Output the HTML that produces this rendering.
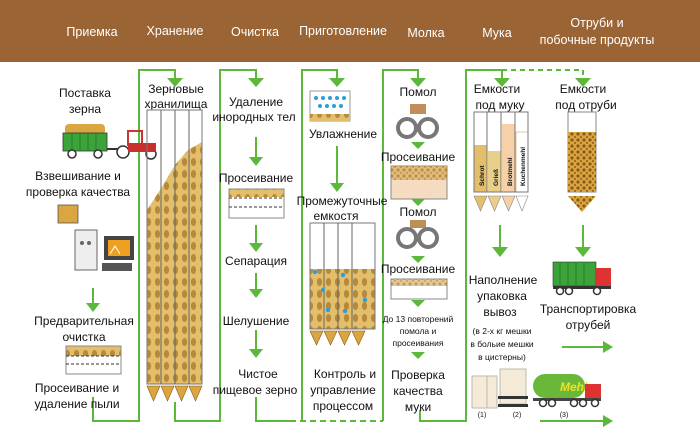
<!DOCTYPE html>
<html><head><meta charset="utf-8"><style>
html,body{margin:0;padding:0;background:#fff;width:700px;height:428px;overflow:hidden}
svg{display:block}
text{font-family:"Liberation Sans",sans-serif;fill:#111}
.h{fill:#fff;font-size:12.5px}
.t{font-size:12px}
.s{font-size:8.5px}
</style></head><body>
<svg width="700" height="428" viewBox="0 0 700 428" xmlns="http://www.w3.org/2000/svg">
<defs>
<pattern id="g" width="9" height="12" patternUnits="userSpaceOnUse">
<rect width="9" height="12" fill="#e3bf6c"/>
<ellipse cx="4.5" cy="6" rx="2.6" ry="4" fill="#b8893a"/>
</pattern>
<pattern id="b" width="6" height="6" patternUnits="userSpaceOnUse">
<rect width="6" height="6" fill="#d9a640"/>
<circle cx="2" cy="2" r="1.6" fill="#8a5a1c"/><circle cx="5" cy="5" r="1.2" fill="#a36b22"/>
</pattern>
</defs>
<rect width="700" height="62" fill="#9a6434"/>
<g text-anchor="middle">
<text x="92" y="36" class="h">Приемка</text>
<text x="175" y="35" class="h">Хранение</text>
<text x="255" y="36" class="h">Очистка</text>
<text x="343" y="35" class="h">Приготовление</text>
<text x="426" y="37" class="h">Молка</text>
<text x="497" y="37" class="h">Мука</text>
<text x="597" y="27" class="h">Отруби и</text>
<text x="597" y="44" class="h">побочные  продукты</text>
</g>
<g stroke="#5cb83a" stroke-width="2" fill="none">
<path d="M93,397 V421 H139 V70 H175 V78"/>
<path d="M175,402 V421 H220 V70 H256 V78"/>
<path d="M256,397 V421 H290"/>
<path d="M290,421 H383" stroke-dasharray="6,4"/>
<path d="M302,421 V70 H337 V78"/>
<path d="M383,421 V70 H418 V78"/>
<path d="M420,410 V421 H466 V70 H502 V78"/>
<path d="M502,70 H583 V78" stroke-dasharray="5,4"/>
<path d="M93,288 V306 M256,137 V160 M256,225 V246 M256,273 V292 M256,330 V352 M337,146 V186 M500,225 V250 M583,225 V250"/>
<path d="M562,347 H604 M540,421 H604"/>
</g>
<g fill="#5cb83a">
<path d="M167,78 h16 l-8,9z M248,78 h16 l-8,9z M329,78 h16 l-8,9z M410,78 h16 l-8,9z M494,78 h16 l-8,9z M575,78 h16 l-8,9z"/>
<path d="M86,303 h14 l-7,9z M249,157 h14 l-7,9z M249,243 h14 l-7,9z M249,289 h14 l-7,9z M249,349 h14 l-7,9z M330,183 h14 l-7,9z"/>
<path d="M492,247 h16 l-8,10z M575,247 h16 l-8,10z M411,142 h14 l-7,7z M411,199 h14 l-7,7z M411,256 h14 l-7,7z M411,300 h14 l-7,7z M411,352 h14 l-7,7z"/>
<path d="M603,341 l10,6 l-10,6z M603,415 l10,6 l-10,6z"/>
</g>
<g class="t" text-anchor="middle">
<text x="85" y="97">Поставка</text><text x="85" y="113">зерна</text>
<text x="78" y="180">Взвешивание и</text><text x="78" y="196">проверка качества</text>
<text x="84" y="325">Предварительная</text><text x="84" y="341">очистка</text>
<text x="77" y="392">Просеивание и</text><text x="77" y="408">удаление пыли</text>
</g>
<rect x="65" y="124" width="40" height="11" rx="4" fill="#d9a640"/>
<rect x="63" y="133" width="44" height="18" fill="#3aa43a" stroke="#333" stroke-width="0.8"/>
<path d="M72,133V151 M80,133V151 M88,133V151 M96,133V151" stroke="#2a7a2a"/>
<rect x="107" y="148" width="18" height="2" fill="#333"/>
<g fill="#fff" stroke="#333" stroke-width="1.5"><circle cx="72" cy="154" r="4"/><circle cx="98" cy="154" r="4"/><circle cx="123" cy="152" r="6"/><circle cx="151" cy="154" r="5"/></g>
<rect x="128" y="131" width="14" height="14" fill="none" stroke="#c33" stroke-width="2"/>
<rect x="128" y="143" width="28" height="9" fill="#c83030"/>
<rect x="58" y="205" width="20" height="18" fill="#d9a640" stroke="#555" stroke-width="0.8"/>
<rect x="75" y="230" width="22" height="40" fill="#eee" stroke="#666"/>
<circle cx="82" cy="243" r="2" fill="#666"/><circle cx="89" cy="243" r="2" fill="#666"/>
<rect x="104" y="236" width="30" height="24" fill="#444"/><rect x="108" y="240" width="22" height="16" fill="#f0a020"/>
<path d="M110,254 l5,-8 l5,8" stroke="#fff" fill="none"/>
<rect x="102" y="263" width="30" height="8" fill="#555"/>
<rect x="66" y="346" width="55" height="10" fill="url(#g)"/>
<rect x="66" y="346" width="55" height="28" fill="none" stroke="#888"/>
<path d="M66,356 H121 M66,364 H121" stroke="#333" stroke-dasharray="3,2"/>
<g class="t" text-anchor="middle"><text x="176" y="93">Зерновые</text><text x="176" y="108">хранилища</text></g>
<path d="M147,210 L160,190 L175,165 L188,150 L202,142 V384 H147z" fill="url(#g)"/>
<rect x="147" y="110" width="55" height="274" fill="none" stroke="#777"/>
<path d="M161,110V384 M175,110V384 M189,110V384" stroke="#666"/>
<g fill="#d9a640" stroke="#8a5a1c" stroke-width="0.6"><path d="M147,386 h13 l-6.5,15z M161,386 h13 l-6.5,15z M175,386 h13 l-6.5,15z M189,386 h13 l-6.5,15z"/></g>
<g class="t" text-anchor="middle">
<text x="256" y="106">Удаление</text><text x="254" y="121">инородных тел</text>
<text x="256" y="182">Просеивание</text><text x="256" y="265">Сепарация</text>
<text x="256" y="325">Шелушение</text><text x="258" y="378">Чистое</text><text x="255" y="394">пищевое зерно</text>
</g>
<rect x="229" y="189" width="55" height="8" fill="url(#g)"/>
<rect x="229" y="189" width="55" height="29" fill="none" stroke="#888"/>
<path d="M229,198 H284 M229,207 H284" stroke="#333" stroke-dasharray="3,2"/>
<rect x="310" y="91" width="40" height="30" fill="#fff" stroke="#999"/>
<g fill="#2a9fd8"><circle cx="316" cy="98" r="2"/><circle cx="323" cy="98" r="2"/><circle cx="330" cy="98" r="2"/><circle cx="337" cy="98" r="2"/><circle cx="344" cy="98" r="2"/><circle cx="320" cy="106" r="2"/><circle cx="327" cy="106" r="2"/><circle cx="334" cy="106" r="2"/><circle cx="341" cy="106" r="2"/></g>
<rect x="310" y="114" width="40" height="7" fill="url(#g)"/>
<g class="t" text-anchor="middle">
<text x="343" y="138">Увлажнение</text><text x="342" y="205">Промежуточные</text><text x="336" y="220">емкостя</text>
<text x="345" y="378">Контроль и</text><text x="343" y="394">управление</text><text x="343" y="410">процессом</text>
</g>
<rect x="310" y="269" width="65" height="60" fill="url(#g)"/>
<rect x="310" y="223" width="65" height="106" fill="none" stroke="#777"/>
<path d="M324,223V329 M338,223V329 M352,223V329" stroke="#666"/>
<g fill="#2a9fd8"><circle cx="315" cy="272" r="2.2"/><circle cx="323" cy="290" r="2.2"/><circle cx="343" cy="275" r="2.2"/><circle cx="345" cy="311" r="2.2"/><circle cx="328" cy="310" r="2.2"/><circle cx="365" cy="300" r="2.2"/></g>
<g fill="#d9a640" stroke="#8a5a1c" stroke-width="0.6"><path d="M310,331 h13 l-6.5,14z M324,331 h13 l-6.5,14z M338,331 h13 l-6.5,14z M352,331 h13 l-6.5,14z"/></g>
<g class="t" text-anchor="middle">
<text x="418" y="96">Помол</text><text x="418" y="161">Просеивание</text><text x="418" y="216">Помол</text>
<text x="418" y="273">Просеивание</text>
<text x="418" y="379">Проверка</text><text x="418" y="395">качества</text><text x="418" y="411">муки</text>
</g>
<g class="s" text-anchor="middle"><text x="418" y="322">До 13 повторений</text><text x="418" y="334">помола и</text><text x="418" y="346">просеивания</text></g>
<g fill="none" stroke="#777" stroke-width="4"><circle cx="407" cy="128" r="9"/><circle cx="428" cy="128" r="9"/><circle cx="407" cy="238" r="9"/><circle cx="428" cy="238" r="9"/></g>
<rect x="410" y="104" width="16" height="10" fill="#b07030" opacity=".8"/>
<rect x="410" y="220" width="16" height="8" fill="#b07030" opacity=".8"/>
<rect x="391" y="166" width="56" height="33" fill="#f5dcc0" stroke="#888"/><rect x="391" y="166" width="56" height="14" fill="url(#b)" opacity=".6"/>
<rect x="391" y="279" width="56" height="20" fill="#fff" stroke="#888"/><rect x="391" y="279" width="56" height="7" fill="url(#b)" opacity=".6"/>
<g class="t" text-anchor="middle">
<text x="497" y="93">Емкости</text><text x="500" y="109">под муку</text>
<text x="503" y="284">Наполнение</text><text x="502" y="300">упаковка</text><text x="500" y="316">вывоз</text>
</g>
<g class="s" text-anchor="middle"><text x="502" y="334">(в 2-х кг мешки</text><text x="502" y="347">в больие мешки</text><text x="502" y="360">в цистерны)</text></g>
<rect x="474" y="145" width="13" height="47" fill="#e3bf6c"/><rect x="488" y="151" width="13" height="41" fill="#e8d08a"/><rect x="502" y="124" width="13" height="68" fill="#f6d1a8"/><rect x="516" y="132" width="12" height="60" fill="#fff" stroke="#e5c9a0"/>
<rect x="474" y="112" width="54" height="80" fill="none" stroke="#777"/>
<path d="M487,112V192 M501,112V192 M515,112V192" stroke="#777"/>
<g font-size="6.5" font-weight="bold"><text transform="translate(484,186) rotate(-90)">Schrot</text><text transform="translate(498,186) rotate(-90)">Grieß</text><text transform="translate(512,186) rotate(-90)">Brotmehl</text><text transform="translate(525,186) rotate(-90)">Kuchenmehl</text></g>
<g stroke="#888" stroke-width="0.6"><path d="M474,196 h13 l-6.5,15z" fill="#e3bf6c"/><path d="M488,196 h13 l-6.5,15z" fill="#e8d08a"/><path d="M502,196 h13 l-6.5,15z" fill="#f6d1a8"/><path d="M516,196 h12 l-6,15z" fill="#fff"/></g>
<g fill="#f5ead8" stroke="#bba"><rect x="472" y="376" width="15" height="32"/><rect x="487" y="376" width="10" height="32"/><rect x="500" y="369" width="26" height="35"/></g>
<rect x="498" y="396" width="30" height="3" fill="#333"/><rect x="498" y="404" width="30" height="3" fill="#333"/>
<g font-size="7" text-anchor="middle"><text x="482" y="417">(1)</text><text x="517" y="417">(2)</text><text x="564" y="417">(3)</text></g>
<rect x="533" y="374" width="52" height="24" rx="12" fill="#6ab83a"/>
<text x="560" y="391" font-size="12" font-style="italic" font-weight="bold" style="fill:#f2e020">Mehl</text>
<rect x="585" y="384" width="16" height="16" fill="#d33"/>
<rect x="533" y="398" width="68" height="3" fill="#444"/>
<g fill="#fff" stroke="#333" stroke-width="1.5"><circle cx="543" cy="403" r="3.5"/><circle cx="552" cy="403" r="3.5"/><circle cx="574" cy="403" r="3.5"/><circle cx="583" cy="403" r="3.5"/><circle cx="595" cy="403" r="3.5"/></g>
<g class="t" text-anchor="middle">
<text x="583" y="93">Емкости</text><text x="586" y="109">под отруби</text>
<text x="588" y="313">Транспортировка</text><text x="588" y="329">отрубей</text>
</g>
<rect x="568" y="112" width="28" height="80" fill="#fff" stroke="#888"/>
<rect x="568" y="132" width="28" height="60" fill="url(#b)"/>
<path d="M568,196 h28 l-14,16z" fill="url(#b)"/>
<rect x="553" y="262" width="43" height="24" fill="#3aa43a" stroke="#333" stroke-width="0.6"/>
<path d="M560,263V285 M568,263V285 M576,263V285 M584,263V285" stroke="#2a7a2a"/>
<rect x="596" y="268" width="15" height="18" fill="#d33"/>
<rect x="553" y="286" width="58" height="3" fill="#333"/>
<g fill="#fff" stroke="#333" stroke-width="1.5"><circle cx="560" cy="291" r="3.5"/><circle cx="569" cy="291" r="3.5"/><circle cx="597" cy="291" r="3.5"/></g>
</svg>
</body></html>
